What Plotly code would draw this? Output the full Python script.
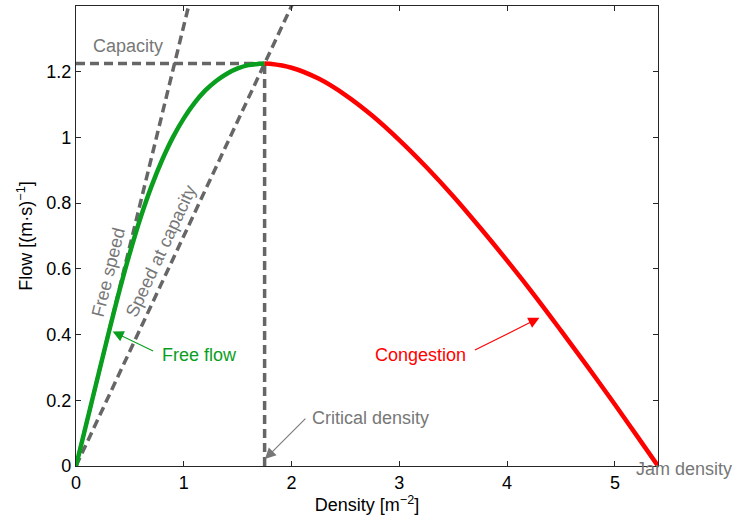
import plotly.graph_objects as go

# Free-flow branch (density [m^-2], flow [(m s)^-1])
free_density = [0, 0.1, 0.2, 0.3, 0.4, 0.5, 0.6, 0.7, 0.8, 0.9, 1.0, 1.1, 1.2,
                1.3, 1.4, 1.5, 1.6, 1.7, 1.75]
free_flow = [0, 0.134, 0.268, 0.401, 0.530, 0.649, 0.757, 0.851, 0.932, 1.001,
             1.058, 1.105, 1.143, 1.172, 1.194, 1.210, 1.220, 1.224, 1.225]

# Congested branch
cong_density = [1.75, 1.8, 2.0, 2.25, 2.5, 2.75, 3.0, 3.25, 3.5, 3.75, 4.0,
                4.25, 4.5, 4.75, 5.0, 5.2, 5.4]
cong_flow = [1.225, 1.224, 1.212, 1.179, 1.129, 1.066, 0.992, 0.910, 0.821,
             0.725, 0.625, 0.521, 0.412, 0.301, 0.187, 0.094, 0]

# Reference lines
free_speed_x = [0, 1.1]
free_speed_y = [0, 1.474]
cap_speed_x = [0, 2.1]
cap_speed_y = [0, 1.47]
capacity_x = [0, 1.75]
capacity_y = [1.225, 1.225]
critical_x = [1.75, 1.75]
critical_y = [0, 1.225]

x_ticks = [0, 1, 2, 3, 4, 5]
y_ticks = [0, 0.2, 0.4, 0.6, 0.8, 1, 1.2]
y_tick_text = ["0", "0.2", "0.4", "0.6", "0.8", "1", "1.2"]

GREY = "#666666"
TEXT_GREY = "#777777"
GREEN = "#0a9e1e"
RED = "#ff0000"
FONT = "Liberation Sans, Arial, sans-serif"

fig = go.Figure()
dash = "9px,5px"
for xs, ys in [(free_speed_x, free_speed_y), (cap_speed_x, cap_speed_y),
               (capacity_x, capacity_y), (critical_x, critical_y)]:
    fig.add_trace(go.Scatter(x=xs, y=ys, mode="lines",
                             line=dict(color=GREY, width=3.5, dash=dash),
                             showlegend=False, hoverinfo="skip"))

fig.add_trace(go.Scatter(x=free_density, y=free_flow, mode="lines",
                         line=dict(color=GREEN, width=4.5, shape="spline"),
                         showlegend=False))
fig.add_trace(go.Scatter(x=cong_density, y=cong_flow, mode="lines",
                         line=dict(color=RED, width=4.5, shape="spline"),
                         showlegend=False))

fs = 18
def text(x, y, s, color, angle=0, xref="x", yref="y"):
    fig.add_annotation(x=x, y=y, xref=xref, yref=yref, text=s,
                       showarrow=False, textangle=angle,
                       xanchor="center", yanchor="middle",
                       font=dict(family=FONT, size=fs, color=color))

def arrow(x, y, ax, ay, color):
    fig.add_annotation(x=x, y=y, ax=ax, ay=ay, text="", showarrow=True,
                       arrowhead=2, arrowsize=2.0, arrowwidth=1.1,
                       arrowcolor=color)

text(0.482, 1.277, "Capacity", TEXT_GREY)
text(0.297, 0.588, "Free speed", TEXT_GREY, -76)
text(0.788, 0.655, "Speed at capacity", TEXT_GREY, -65)
text(1.15, 0.338, "Free flow", GREEN)
arrow(0.34, 0.409, 42, 20, GREEN)
text(3.20, 0.338, "Congestion", RED)
arrow(4.30, 0.451, -66, 33, RED)
text(2.737, 0.146, "Critical density", TEXT_GREY)
arrow(1.753, 0.021, 42, -42, TEXT_GREY)
text(1.045, -0.0065, "Jam density", TEXT_GREY, xref="paper", yref="paper")

axis_common = dict(showline=True, linecolor="#262626", linewidth=1.3,
                   mirror="ticks", ticks="inside", ticklen=5,
                   tickcolor="#262626", tickwidth=1, showgrid=False,
                   zeroline=False,
                   tickfont=dict(family=FONT, size=fs, color="black"))

fig.update_xaxes(range=[0, 5.4], tickvals=x_ticks,
                 title=dict(text="Density [m<sup>−2</sup>]", standoff=6,
                            font=dict(family=FONT, size=fs, color="black")),
                 **axis_common)
fig.update_yaxes(range=[0, 1.4], tickvals=y_ticks, ticktext=y_tick_text,
                 title=dict(text="Flow [(m·s)<sup>−1</sup>]", standoff=8,
                            font=dict(family=FONT, size=fs, color="black")),
                 **axis_common)

fig.update_layout(width=735, height=518,
                  margin=dict(l=76, r=77, t=6, b=52),
                  paper_bgcolor="white", plot_bgcolor="white",
                  font=dict(family=FONT, size=fs))

fig.write_html("out.html")
